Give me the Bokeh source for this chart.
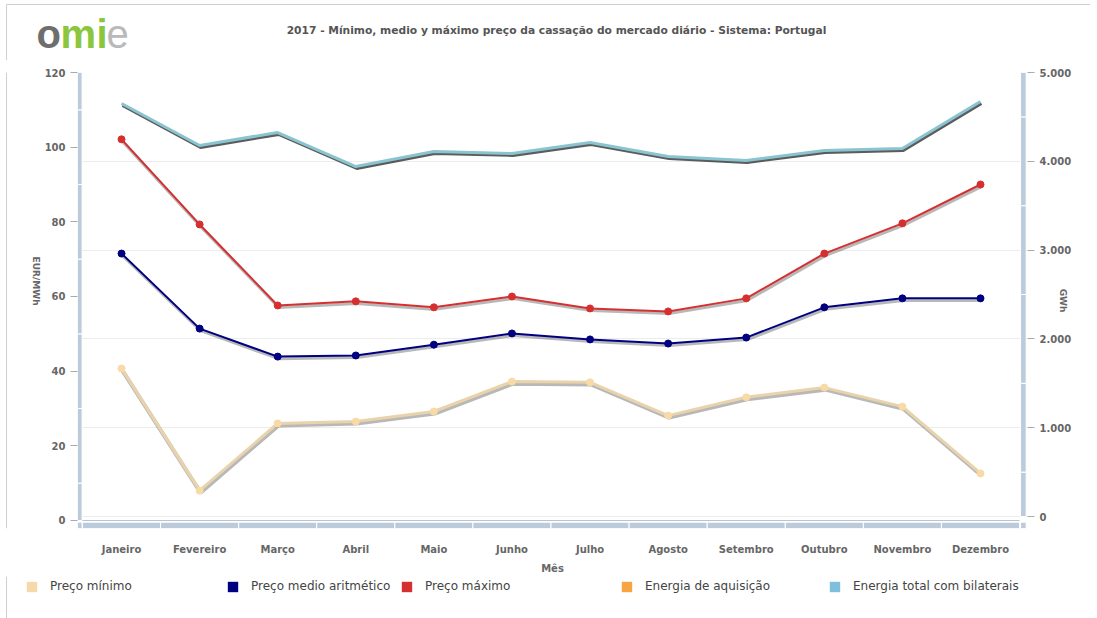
import numpy as np
from bokeh.plotting import figure
from bokeh.layouts import column, row
from bokeh.models import (Range1d, LinearAxis, FixedTicker, Grid, Legend, LegendItem)
from bokeh.embed import file_html
from bokeh.resources import INLINE
from bokeh.core.properties import value

# ---------------- data ----------------
months = ["Janeiro", "Fevereiro", "Março", "Abril", "Maio", "Junho", "Julho",
          "Agosto", "Setembro", "Outubro", "Novembro", "Dezembro"]
preco_minimo = [40.7, 8.0, 26.0, 26.5, 29.2, 37.2, 37.0, 28.1, 33.0, 35.6, 30.5, 12.6]
preco_medio = [71.5, 51.4, 43.9, 44.2, 47.1, 50.1, 48.5, 47.4, 49.0, 57.1, 59.5, 59.5]
preco_maximo = [102.1, 79.3, 57.6, 58.7, 57.1, 60.0, 56.8, 56.0, 59.5, 71.5, 79.6, 90.0]
energia_total = [4651, 4178, 4324, 3941, 4110, 4088, 4212, 4054, 4009, 4122, 4144, 4673]
left_ticks = [0, 20, 40, 60, 80, 100, 120]
right_ticks = [0, 1000, 2000, 3000, 4000, 5000]
right_tick_labels = ["0", "1.000", "2.000", "3.000", "4.000", "5.000"]
legend_names = ["Preço mínimo", "Preço medio aritmético", "Preço máximo",
                "Energia de aquisição", "Energia total com bilaterais"]
legend_colors = ["#f7d9a9", "#000080", "#d62f2f", "#f7a443", "#7ec0dc"]
title_text = "2017 - Mínimo, medio y máximo preço da cassação do mercado diário - Sistema: Portugal"

FONT = "DejaVu Sans"
TXT = "#666666"
BORDER = "#cfcfcf"
W = 1090
x = np.arange(len(months))


def blank(width, height, xr, yr):
    f = figure(width=width, height=height, output_backend="svg", toolbar_location=None,
               x_range=Range1d(*xr), y_range=Range1d(*yr),
               x_axis_type=None, y_axis_type=None, min_border=0)
    f.outline_line_color = None
    f.grid.visible = False
    return f


# ---------------- header (logo + title) ----------------
HH = 60
head = blank(W, HH, (0, W), (HH, 0))
head.segment(x0=[6], x1=[W], y0=[4], y1=[4], line_color=BORDER, line_width=1)
head.segment(x0=[6], x1=[6], y0=[4], y1=[HH], line_color=BORDER, line_width=1)
head.text(x=[556], y=[30], text=[title_text], text_align="center", text_baseline="middle",
          text_font=value(FONT), text_font_style="bold", text_font_size="10.7px",
          text_color="#555555")
for ch, lx, col, st in [("o", 36, "#6e6e6e", "bold"), ("m", 60, "#8cc63f", "bold"),
                        ("i", 96, "#8cc63f", "bold"), ("e", 106, "#b9b9b9", "normal")]:
    head.text(x=[lx], y=[33], text=[ch], text_align="left", text_baseline="middle",
              text_font=value("Liberation Sans"), text_font_style=st,
              text_font_size="40px", text_color=col)

# ---------------- left side (y-axis title) ----------------
MH = 516
SW = 41
side = blank(SW, MH, (0, SW), (HH + MH, HH))
side.segment(x0=[6], x1=[6], y0=[HH], y1=[HH + MH], line_color=BORDER, line_width=1)
side.text(x=[35], y=[296], text=["EUR/MWh"], angle=-np.pi / 2, text_align="center",
          text_baseline="middle", text_font=value(FONT), text_font_style="bold",
          text_font_size="9px", text_color=TXT)

# ---------------- main chart ----------------
p = figure(width=W - SW, height=MH, output_backend="svg", toolbar_location=None,
           x_range=Range1d(-0.564, 11.602), y_range=Range1d(-2.143, 120),
           min_border_left=35, min_border_right=63, min_border_top=72 - HH,
           min_border_bottom=HH + MH - 528)
p.extra_y_ranges = {"right": Range1d(-135, 5000)}
p.outline_line_color = None
p.xgrid.visible = False
p.ygrid.visible = False

xa = p.xaxis[0]
xa.ticker = FixedTicker(ticks=list(x))
xa.major_label_overrides = {int(i): m for i, m in zip(x, months)}
xa.axis_line_color = None
xa.major_tick_line_color = None
xa.minor_tick_line_color = None
xa.major_label_standoff = 9
xa.major_label_text_font = FONT
xa.major_label_text_font_style = "bold"
xa.major_label_text_font_size = "10px"
xa.major_label_text_color = TXT
xa.axis_label = "Mês"
xa.axis_label_text_font = FONT
xa.axis_label_text_font_style = "bold"
xa.axis_label_text_font_size = "10px"
xa.axis_label_text_color = TXT
xa.axis_label_standoff = 5

ya = p.yaxis[0]
ya.ticker = FixedTicker(ticks=left_ticks)
ya.axis_line_color = None
ya.major_tick_out = 7
ya.major_tick_in = 0
ya.major_tick_line_color = "#aaaaaa"
ya.minor_tick_line_color = None
ya.major_label_standoff = 5
ya.major_label_text_font = FONT
ya.major_label_text_font_style = "bold"
ya.major_label_text_font_size = "10px"
ya.major_label_text_color = TXT

ra = LinearAxis(y_range_name="right", ticker=FixedTicker(ticks=right_ticks),
                major_label_overrides={t: l for t, l in zip(right_ticks, right_tick_labels)})
ra.axis_line_color = None
ra.major_tick_out = 7
ra.major_tick_in = 0
ra.major_tick_line_color = "#aaaaaa"
ra.minor_tick_line_color = None
ra.major_label_standoff = 5
ra.major_label_text_font = FONT
ra.major_label_text_font_style = "bold"
ra.major_label_text_font_size = "10px"
ra.major_label_text_color = TXT
ra.axis_label = "GWh"
ra.axis_label_text_font = FONT
ra.axis_label_text_font_style = "bold"
ra.axis_label_text_font_size = "9px"
ra.axis_label_text_color = TXT
ra.axis_label_standoff = -16
p.add_layout(ra, "right")

p.add_layout(Grid(dimension=1, ticker=ra.ticker, y_range_name="right",
                  grid_line_color="#ececec", grid_line_width=1))

# decorative segmented axis bars
BAR = "#bccbdb"
x0 = p.x_range.start
yb0 = p.y_range.start
le = [left_ticks[0]] + [t + 10 for t in left_ticks[:-1]] + [left_ticks[-1]]
p.quad(left=[x0] * (len(le) - 1), right=[-0.505] * (len(le) - 1),
       bottom=le[:-1], top=le[1:], fill_color=BAR, line_color="white", line_width=1)
re_ = [right_ticks[0]] + [t + 500 for t in right_ticks[:-1]] + [right_ticks[-1]]
p.quad(left=[11.513] * (len(re_) - 1), right=[11.585] * (len(re_) - 1),
       bottom=re_[:-1], top=re_[1:], fill_color=BAR, line_color="white",
       line_width=1, y_range_name="right")
p.quad(left=list(x - 0.5), right=list(x + 0.5), bottom=[yb0] * len(x),
       top=[-0.45] * len(x), fill_color=BAR, line_color="white", line_width=1)
p.quad(left=[x0, 11.513], right=[-0.505, 11.585], bottom=[yb0, yb0],
       top=[-0.45, -0.45], fill_color=BAR, line_color="white", line_width=1)
p.segment(x0=[-0.5], x1=[11.5], y0=[0], y1=[0], line_color="#b8c4d2", line_width=1)

# series
off_l = 0.55   # ~2px shadow offset (EUR units)
off_r = 22     # ~2px shadow offset (GWh units)
dx = 0.012

et = np.array(energia_total, dtype=float)
p.line(x + dx, et - off_r, line_color="#333333", line_width=3, line_alpha=0.8,
       y_range_name="right")
p.line(x, et, line_color="#8ac4d0", line_width=3, y_range_name="right")

for vals, col, mcol, lw in [(preco_minimo, "#e9d3ab", "#f8daa6", 3),
                            (preco_maximo, "#d62f2f", "#d62f2f", 2),
                            (preco_medio, "#000080", "#000080", 2)]:
    v = np.array(vals, dtype=float)
    p.line(x + dx, v - off_l, line_color="#000000", line_alpha=0.28, line_width=lw + 1)
    p.line(x, v, line_color=col, line_width=lw)
    p.scatter(x, v, size=7, fill_color=mcol, line_color=mcol)

# ---------------- legend strip ----------------
LH = 618 - HH - MH
LTOP = HH + MH
leg = blank(W, LH, (0, W), (LH, 0))
leg.segment(x0=[6], x1=[6], y0=[0], y1=[LH], line_color=BORDER, line_width=1)
leg_x = [25, 226, 400, 620, 828]
sq_top = 580 - LTOP
for name, col, lx in zip(legend_names, legend_colors, leg_x):
    r = leg.quad(left=[np.nan], right=[np.nan], top=[np.nan], bottom=[np.nan],
                 fill_color=col, line_color=None)
    lg = Legend(items=[LegendItem(label=value(name), renderers=[r])],
                location=(lx, LH - sq_top - 13), orientation="horizontal",
                glyph_width=13, glyph_height=13, label_height=13,
                label_standoff=12, padding=0, margin=0, spacing=0,
                border_line_color=None, background_fill_alpha=0,
                label_text_font=FONT, label_text_font_size="12px",
                label_text_color="#444444", label_text_baseline="middle")
    leg.add_layout(lg, "center")

layout = column(head, row(side, p), leg)
open("out.html", "w").write(file_html(layout, INLINE))
